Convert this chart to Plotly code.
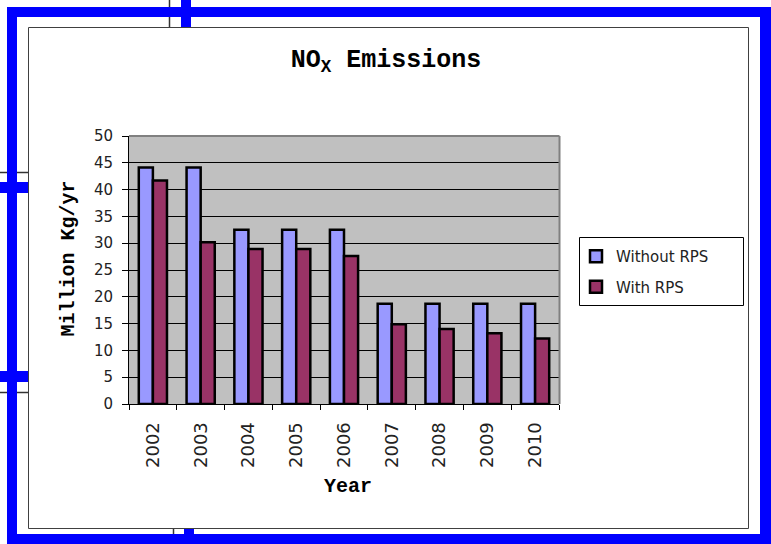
import plotly.graph_objects as go

years = ["2002", "2003", "2004", "2005", "2006", "2007", "2008", "2009", "2010"]
without_rps = [44.1, 44.1, 32.5, 32.5, 32.5, 18.7, 18.7, 18.7, 18.7]
with_rps = [41.7, 30.2, 28.9, 28.9, 27.6, 14.9, 14.0, 13.2, 12.2]
y_ticks = [0, 5, 10, 15, 20, 25, 30, 35, 40, 45, 50]

W, H = 771, 544
L, R_, T, B = 129, 771 - 559, 136, 544 - 404
PW, PH = W - L - R_, H - T - B


def px(x):
    return (x - L) / PW


def py(y):
    return (H - B - y) / PH


fig = go.Figure()
fig.add_trace(go.Bar(name="Without RPS", x=years, y=without_rps,
                     marker=dict(color="#9999FF", line=dict(color="black", width=2.5)),
                     legendgroup="a"))
fig.add_trace(go.Bar(name="With RPS", x=years, y=with_rps,
                     marker=dict(color="#993366", line=dict(color="black", width=2.5)),
                     legendgroup="b"))

shapes = []


def rect(x0, y0, x1, y1, fill=None, line=None, lw=0, layer="below"):
    d = dict(type="rect", xref="paper", yref="paper",
             x0=px(x0), x1=px(x1), y0=py(y0), y1=py(y1), layer=layer)
    if fill:
        d["fillcolor"] = fill
    if line:
        d["line"] = dict(color=line, width=lw)
    else:
        d["line"] = dict(width=0)
    shapes.append(d)


def seg(x0, y0, x1, y1, color="#333333", lw=1, layer="below"):
    shapes.append(dict(type="line", xref="paper", yref="paper",
                       x0=px(x0), x1=px(x1), y0=py(y0), y1=py(y1),
                       line=dict(color=color, width=lw), layer=layer))


BLUE = "#0000FF"
# thin black frame lines outside chart
seg(169.5, 0, 169.5, 27, "#333333", 1.5)
seg(173.5, 528, 173.5, 544, "#333333", 1.5)
seg(0, 172.5, 28, 172.5, "#333333", 1.5)
seg(0, 392.5, 28, 392.5, "#333333", 1.5)
# blue frame
rect(7, 7, 771, 17, fill=BLUE)
rect(7, 534, 771, 544, fill=BLUE)
rect(7, 7, 17, 544, fill=BLUE)
rect(760, 7, 771, 544, fill=BLUE)
rect(181, 0, 191, 27, fill=BLUE)
rect(184, 528, 194, 544, fill=BLUE)
rect(0, 182, 28, 193, fill=BLUE)
rect(0, 371, 28, 382, fill=BLUE)
# chart border
rect(28.5, 27.5, 748.5, 528.5, line="#404040", lw=1)
# plot area gray border (top / right)
seg(129, 136, 559.5, 136, "#808080", 2, layer="above")
seg(559.5, 136, 559.5, 404, "#808080", 2, layer="above")
# legend box
rect(579.5, 237.5, 743.5, 305.5, line="black", lw=1, fill="white")

annotations = [
    dict(text="Million Kg/yr", textangle=-90, xref="paper", yref="paper",
         x=px(67.5), y=py(259), xanchor="center", yanchor="middle", showarrow=False,
         font=dict(family="Liberation Mono, Courier New, monospace", size=20,
                   color="black", weight="bold")),
    dict(text="Year", xref="paper", yref="paper",
         x=px(348), y=py(486), xanchor="center", yanchor="middle", showarrow=False,
         font=dict(family="Liberation Mono, Courier New, monospace", size=20,
                   color="black", weight="bold")),
]

fig.update_layout(
    width=W, height=H,
    margin=dict(l=L, r=R_, t=T, b=B),
    paper_bgcolor="white",
    plot_bgcolor="#C0C0C0",
    barmode="group",
    bargap=0.41,
    bargroupgap=0,
    title=dict(text="NO<sub>X</sub> Emissions", x=386 / W, xref="container",
               y=1 - 58 / H, yref="container", xanchor="center", yanchor="middle",
               font=dict(family="Liberation Mono, Courier New, monospace", size=25,
                         color="black", weight="bold")),
    xaxis=dict(type="category", showline=True, linecolor="black", linewidth=1,
               ticks="outside", tickson="boundaries", ticklen=5, tickcolor="black",
               tickangle=-90, showgrid=False, ticklabelstandoff=10,
               tickfont=dict(family="DejaVu Sans", size=18, color="#222222")),
    yaxis=dict(range=[0, 50], tickvals=y_ticks, showline=True, linecolor="black",
               linewidth=1, ticks="outside", ticklen=6, tickcolor="black",
               showgrid=True, gridcolor="black", gridwidth=1, zeroline=False,
               ticklabelstandoff=6,
               tickfont=dict(family="DejaVu Sans", size=15, color="#222222")),
    legend=dict(x=px(576), y=py(240), xanchor="left", yanchor="top",
                bgcolor="rgba(0,0,0,0)", borderwidth=0,
                traceorder="grouped", tracegroupgap=8,
                font=dict(family="DejaVu Sans", size=15, color="#222222")),
    shapes=shapes,
    annotations=annotations,
)

fig.write_html("out.html")
